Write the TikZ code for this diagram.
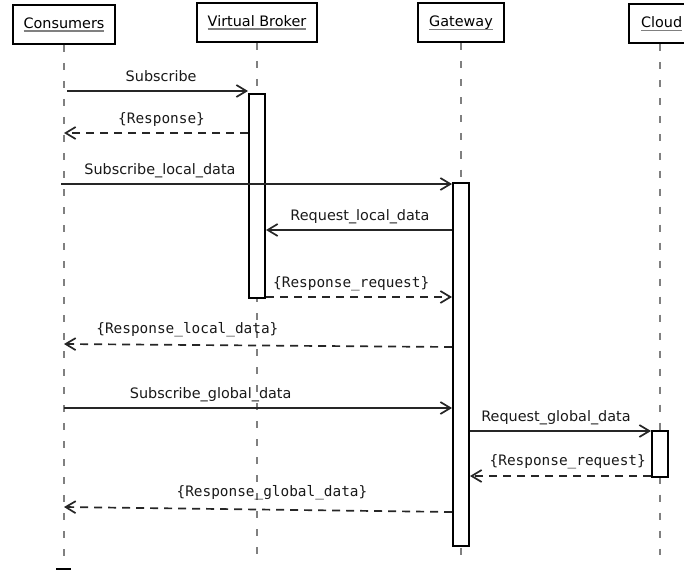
\documentclass[tikz,border=0pt]{standalone}
\usepackage{fontspec}
\setmainfont{DejaVu Sans}
\setmonofont{DejaVu Sans Mono}
\usetikzlibrary{arrows.meta,positioning}
\newcommand{\actorname}[1]{\setbox0\hbox{#1}%
\rlap{\color{gray}\rule[-3.5pt]{\wd0}{1.3pt}}\box0}
\tikzset{>={Straight Barb[length=10pt,width=12pt]},
actor/.style={draw, line width=2pt, minimum height=39pt,
  inner xsep=11pt, font=\fontsize{14.4}{17}\selectfont},
lifeline/.style={gray, line width=1.2pt, dash pattern=on 7pt off 11pt},
activ/.style={draw, fill=white, line width=2pt, minimum width=16pt,
  inner sep=0pt, anchor=north},
msg/.style={->, line width=1.7pt, black!85},
reply/.style={msg, dash pattern=on 8pt off 6pt},
msglabel/.style={anchor=base, yshift=9.5pt, inner sep=0pt, black!90,
  font=\fontsize{14.4}{17}\selectfont},
replylabel/.style={msglabel, font=\ttfamily\fontsize{14.4}{17}\selectfont}}

\begin{document}
\begin{tikzpicture}[x=1pt,y=-1pt]
  \useasboundingbox (0,0) rectangle (684,572);
  % actors
  \node[actor] (cons)  at (64,24.5)  {\actorname{Consumers}};
  \node[actor] (vb)    at (257,22.5) {\actorname{Virtual Broker}};
  \node[actor] (gw)    at (461,23)   {\actorname{Gateway}};
  \node[actor, anchor=west, text width=60pt, inner xsep=12pt]
    (cloud) at (628,24) {\actorname{Cloud}};
  \coordinate (cons-end)  at (64,563);
  \coordinate (vb-end)    at (257,558);
  \coordinate (gw-end)    at (461,565);
  \coordinate (cloud-end) at (660,555);
  \foreach \who in {cons,vb,gw}
    \draw[lifeline] (\who.south) -- (\who-end);
  \draw[lifeline] (cloud-end |- cloud.south) -- (cloud-end);
  \draw[line width=2pt] (56,569) -- (71,569);
  % activations
  \node[activ, minimum height=204pt] (vbact)    at (257,93)  {};
  \node[activ, minimum height=363pt] (gwact)    at (461,182) {};
  \node[activ, minimum height=46pt]  (cloudact) at (660,430) {};
  % message rows
  \foreach \n/\y in {1/91,2/133,3/184,4/230,5/297,6/347,7/408,8/431,9/476,10/512}
    \coordinate (r\n) at (0,\y);
  \draw[msg] ([xshift=3pt]cons |- r1) -- (vbact.west |- r1)
    node[msglabel, pos=0.52] (t1) {Subscribe};
  \draw[reply] (vbact.west |- r2) -- (cons |- r2)
    node[replylabel, pos=0.47] (t2) {\{Response\}};
  \draw[msg] ([xshift=-3pt]cons |- r3) -- (gwact.west |- r3)
    node[msglabel, pos=0.253] (t3) {Subscribe\_local\_data};
  \draw[msg] (gwact.west |- r4) -- (vbact.east |- r4)
    node[msglabel, pos=0.495] (t4) {Request\_local\_data};
  \draw[reply] (vbact.east |- r5) -- (gwact.west |- r5)
    node[replylabel, pos=0.458] (t5) {\{Response\_request\}};
  \draw[reply] (gwact.west |- r6) -- ([yshift=3pt]cons |- r6)
    node[replylabel, pos=0.682, yshift=1.5pt] (t6) {\{Response\_local\_data\}};
  \draw[msg] (cons |- r7) -- (gwact.west |- r7)
    node[msglabel, pos=0.378] (t7) {Subscribe\_global\_data};
  \draw[msg] (gwact.east |- r8) -- (cloudact.west |- r8)
    node[msglabel, pos=0.475] (t8) {Request\_global\_data};
  \draw[reply] (cloudact.west |- r9) -- (gwact.east |- r9)
    node[replylabel, pos=0.46, yshift=1pt] (t9) {\{Response\_request\}};
  \draw[reply] (gwact.west |- r10) -- ([yshift=5pt]cons |- r10)
    node[replylabel, pos=0.464, yshift=4pt] (t10) {\{Response\_global\_data\}};
\end{tikzpicture}
\end{document}
